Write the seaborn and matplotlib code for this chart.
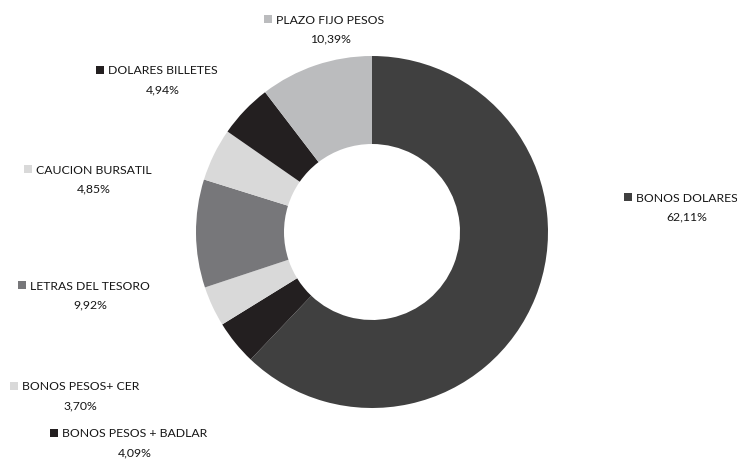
import matplotlib
matplotlib.use("Agg")
import matplotlib.pyplot as plt
import seaborn as sns

categories = ["BONOS DOLARES", "BONOS PESOS + BADLAR", "BONOS PESOS+ CER",
              "LETRAS DEL TESORO", "CAUCION BURSATIL", "DOLARES BILLETES",
              "PLAZO FIJO PESOS"]
shares = [62.11, 4.09, 3.70, 9.92, 4.85, 4.94, 10.39]
colors = ["#404040", "#231f20", "#d9d9d9", "#77777a", "#d9d9d9", "#231f20", "#bbbcbe"]

# label anchors (square marker x, y in pixels from top)
label_pos = [(628, 198), (54, 434), (14, 387), (22, 286), (28, 170), (100, 71), (268, 20)]

sns.set_theme(style="white")
plt.rcParams["font.family"] = ["Lato", "DejaVu Sans"]

W, H = 737, 460
fig = plt.figure(figsize=(W / 100, H / 100), dpi=100)
ax = fig.add_axes([0, 0, 1, 1])

ax.pie(shares, colors=colors, startangle=90, counterclock=False,
       center=(372, H - 233), radius=176, frame=True,
       wedgeprops=dict(width=88, linewidth=0))
ax.set_xlim(0, W)
ax.set_ylim(0, H)
ax.set_aspect("equal")
ax.axis("off")

for name, val, col, (x, y) in zip(categories, shares, colors, label_pos):
    ax.scatter([x], [H - y], marker="s", s=36, color=col, linewidths=0)
    t = ax.text(x + 8, H - y, name, fontsize=8.8, color="#161616",
                ha="left", va="center")
    fig.canvas.draw()
    bb = t.get_window_extent()
    cx = (bb.x0 + bb.x1) / 2
    pct = f"{val:.2f}".replace(".", ",") + "%"
    ax.text(cx, H - y - 19, pct, fontsize=8.8, color="#161616",
            ha="center", va="center")

fig.savefig("out.png", dpi=100)
